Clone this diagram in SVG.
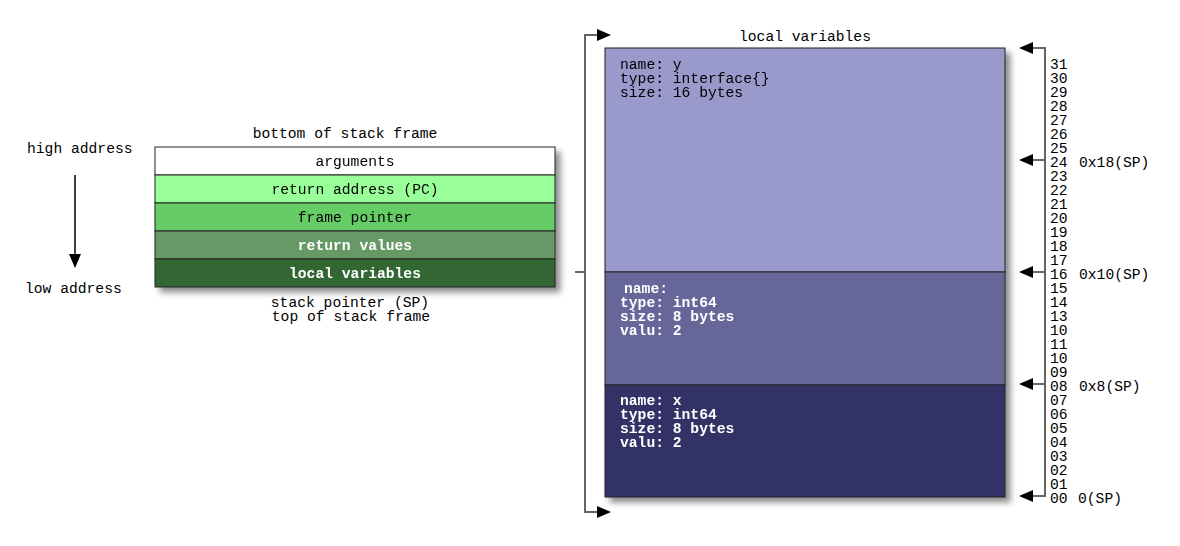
<svg xmlns="http://www.w3.org/2000/svg" width="1180" height="546" viewBox="0 0 1180 546">
<style>
text{font-family:"Liberation Mono","Courier New",monospace;font-size:14.67px;fill:#000}
.c{text-anchor:middle}
.w{fill:#fff;font-weight:bold}
.row{stroke:#222;stroke-width:1}
.ln{stroke:#666;stroke-width:2;fill:none}
.ah{fill:#000}
</style>
<defs>
<filter id="sh" x="-10%" y="-10%" width="130%" height="130%">
<feGaussianBlur in="SourceAlpha" stdDeviation="3"/>
<feOffset dx="5" dy="5" result="b"/>
<feComponentTransfer><feFuncA type="linear" slope="0.45"/></feComponentTransfer>
<feMerge><feMergeNode/><feMergeNode in="SourceGraphic"/></feMerge>
</filter>
</defs>
<rect width="1180" height="546" fill="#fff"/>

<g id="labels-left">
<text x="27" y="153">high address</text>
<text x="25" y="293">low address</text>
<text x="345" y="138" class="c">bottom of stack frame</text>
<text x="350" y="307" class="c">stack pointer (SP)</text>
<text x="351" y="321" class="c">top of stack frame</text>
</g>

<g id="stack-frame" filter="url(#sh)">
<g id="arguments"><rect class="row" x="155" y="147" width="400" height="28" fill="#fff"/><text x="355" y="166" class="c">arguments</text></g>
<g id="return-address"><rect class="row" x="155" y="175" width="400" height="28" fill="#99FF99"/><text x="355" y="194" class="c">return address (PC)</text></g>
<g id="frame-pointer"><rect class="row" x="155" y="203" width="400" height="28" fill="#66CC66"/><text x="355" y="222" class="c">frame pointer</text></g>
<g id="return-values"><rect class="row" x="155" y="231" width="400" height="28" fill="#669966"/><text x="355" y="250" class="c w">return values</text></g>
<g id="local-variables"><rect class="row" x="155" y="259" width="400" height="28" fill="#336633"/><text x="355" y="278" class="c w">local variables</text></g>
</g>

<g id="locals-title"><text x="805" y="41" class="c">local variables</text></g>

<g id="locals" filter="url(#sh)">
<g id="var-y"><rect class="row" x="605" y="48" width="400" height="224" fill="#9999CC"/>
<text x="620" y="69">name: y</text><text x="620" y="83">type: interface{}</text><text x="620" y="97">size: 16 bytes</text></g>
<g id="var-unnamed"><rect class="row" x="605" y="272" width="400" height="113" fill="#666699"/>
<text x="624" y="293" class="w">name:</text><text x="620" y="307" class="w">type: int64</text><text x="620" y="321" class="w">size: 8 bytes</text><text x="620" y="335" class="w">valu: 2</text></g>
<g id="var-x"><rect class="row" x="605" y="385" width="400" height="112" fill="#333366"/>
<text x="620" y="405" class="w">name: x</text><text x="620" y="419" class="w">type: int64</text><text x="620" y="433" class="w">size: 8 bytes</text><text x="620" y="447" class="w">valu: 2</text></g>
</g>

<g id="offsets">
<text x="1050" y="69">31</text><text x="1050" y="83">30</text><text x="1050" y="97">29</text><text x="1050" y="111">28</text>
<text x="1050" y="125">27</text><text x="1050" y="139">26</text><text x="1050" y="153">25</text><text x="1050" y="167">24</text>
<text x="1050" y="181">23</text><text x="1050" y="195">22</text><text x="1050" y="209">21</text><text x="1050" y="223">20</text>
<text x="1050" y="237">19</text><text x="1050" y="251">18</text><text x="1050" y="265">17</text><text x="1050" y="279">16</text>
<text x="1050" y="293">15</text><text x="1050" y="307">14</text><text x="1050" y="321">13</text><text x="1050" y="335">10</text>
<text x="1050" y="349">11</text><text x="1050" y="363">10</text><text x="1050" y="377">09</text><text x="1050" y="391">08</text>
<text x="1050" y="405">07</text><text x="1050" y="419">06</text><text x="1050" y="433">05</text><text x="1050" y="447">04</text>
<text x="1050" y="461">03</text><text x="1050" y="475">02</text><text x="1050" y="489">01</text><text x="1050" y="503">00</text>
<text x="1079" y="167">0x18(SP)</text>
<text x="1079" y="279">0x10(SP)</text>
<text x="1079" y="391">0x8(SP)</text>
<text x="1078" y="503">0(SP)</text>
</g>

<g id="connectors">
<line x1="75" y1="175" x2="75" y2="256" stroke="#000" stroke-width="1.5"/>
<polygon class="ah" points="69,254 81,254 75,268"/>
<path class="ln" d="M575,272 H585 M600,35 H585 V512 H600"/>
<polygon class="ah" points="597,29 611,35 597,41"/>
<polygon class="ah" points="597,506 611,512 597,518"/>
<path class="ln" d="M1032,48 H1045 V496 H1032 M1032,160 H1045 M1032,272 H1045 M1032,384 H1045"/>
<polygon class="ah" points="1033,42 1019,48 1033,54"/>
<polygon class="ah" points="1033,154 1019,160 1033,166"/>
<polygon class="ah" points="1033,266 1019,272 1033,278"/>
<polygon class="ah" points="1033,378 1019,384 1033,390"/>
<polygon class="ah" points="1033,490 1019,496 1033,502"/>
</g>
</svg>
